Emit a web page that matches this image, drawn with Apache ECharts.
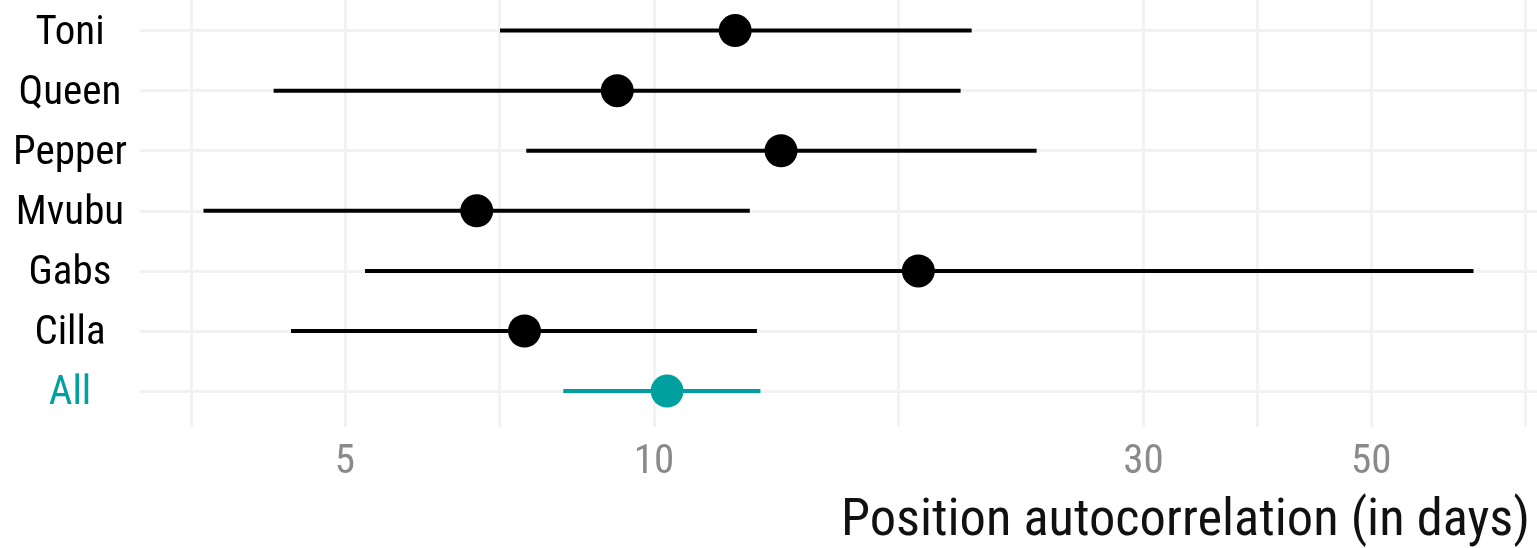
<!DOCTYPE html>
<html>
<head>
<meta charset="utf-8">
<script src="https://cdn.jsdelivr.net/npm/echarts@6/dist/echarts.min.js"></script>
<style>
  html, body { margin: 0; padding: 0; background: #fff; }
  #chart { width: 1537px; height: 548px; }
</style>
</head>
<body>
<div id="chart"></div>
<script>
// individuals (top to bottom) and the pooled estimate
const animals = ['Toni', 'Queen', 'Pepper', 'Mvubu', 'Gabs', 'Cilla', 'All'];
const estimate = [12.0, 9.21, 13.3, 6.72, 18.1, 7.48, 10.3];
const lower = [7.08, 4.26, 7.51, 3.64, 5.23, 4.43, 8.16];
const upper = [20.4, 19.9, 23.6, 12.4, 62.9, 12.6, 12.7];

// x axis breaks (days, log scale)
const majorBreaks = [5, 10, 30, 50];
const minorBreaks = [3.54, 7.07, 17.3, 38.7, 70.7];

const FONT = "'Roboto Condensed', Roboto, sans-serif";
const TEAL = '#00a0a0';
const GRID = '#f2f2f2';
const lg = Math.log10;

// ggplot-like 5% expansion of the log range
const lo = lg(Math.min(...lower));
const hi = lg(Math.max(...upper));
const pad = (hi - lo) * 0.05;

const rowColor = i => (animals[i] === 'All' ? TEAL : '#000');

const chart = echarts.init(document.getElementById('chart'));

const option = {
  animation: false,
  title: {
    text: 'Position autocorrelation (in days)',
    right: 7,
    bottom: 0,
    padding: 0,
    textStyle: { fontFamily: FONT, fontSize: 52.5, fontWeight: 'normal', color: '#111' }
  },
  grid: {
    left: 140,
    right: 0,
    top: -5.5,
    height: 432.6,
    containLabel: false,
    outerBoundsMode: 'none'
  },
  xAxis: [
    {
      type: 'value',
      min: lo - pad,
      max: hi + pad,
      axisLine: { show: false },
      axisTick: { show: false, customValues: majorBreaks.map(lg) },
      axisLabel: {
        customValues: majorBreaks.map(lg),
        formatter: v => String(Math.round(Math.pow(10, v))),
        fontFamily: FONT,
        fontSize: 41,
        color: '#8a8a8a',
        margin: 15
      },
      splitLine: { show: true, lineStyle: { color: GRID, width: 3 } }
    },
    {
      // minor grid lines halfway between breaks
      type: 'value',
      position: 'top',
      min: lo - pad,
      max: hi + pad,
      axisLine: { show: false },
      axisTick: { show: false, customValues: minorBreaks.map(lg) },
      axisLabel: { show: false },
      splitLine: { show: true, lineStyle: { color: GRID, width: 3 } }
    }
  ],
  yAxis: {
    type: 'value',
    inverse: true,
    min: -0.6,
    max: animals.length - 0.4,
    axisLine: { show: false },
    axisTick: { show: false, customValues: animals.map((a, i) => i) },
    axisLabel: {
      customValues: animals.map((a, i) => i),
      formatter: v => (animals[v] === 'All' ? '{all|All}' : '{a|' + animals[v] + '}'),
      align: 'center',
      margin: 70,
      rich: {
        a: { fontFamily: FONT, fontSize: 41, color: '#000', padding: [6, 0, 0, 0] },
        all: { fontFamily: FONT, fontSize: 41, color: TEAL, padding: [6, 0, 0, 0] }
      }
    },
    splitLine: { show: true, lineStyle: { color: GRID, width: 3 } }
  },
  series: [
    {
      type: 'custom',
      xAxisIndex: 0,
      data: animals.map((a, i) => [lg(lower[i]), lg(upper[i]), i]),
      encode: { x: [0, 1], y: 2 },
      renderItem: (params, api) => {
        const i = api.value(2);
        const p1 = api.coord([api.value(0), i]);
        const p2 = api.coord([api.value(1), i]);
        return {
          type: 'line',
          shape: { x1: p1[0], y1: p1[1], x2: p2[0], y2: p2[1] },
          style: { stroke: rowColor(i), lineWidth: 4 }
        };
      },
      z: 2
    },
    {
      type: 'scatter',
      xAxisIndex: 0,
      data: animals.map((a, i) => [lg(estimate[i]), i]),
      symbolSize: 33,
      itemStyle: { color: p => rowColor(p.dataIndex), opacity: 1 },
      z: 3
    }
  ]
};

chart.setOption(option);
</script>
</body>
</html>
